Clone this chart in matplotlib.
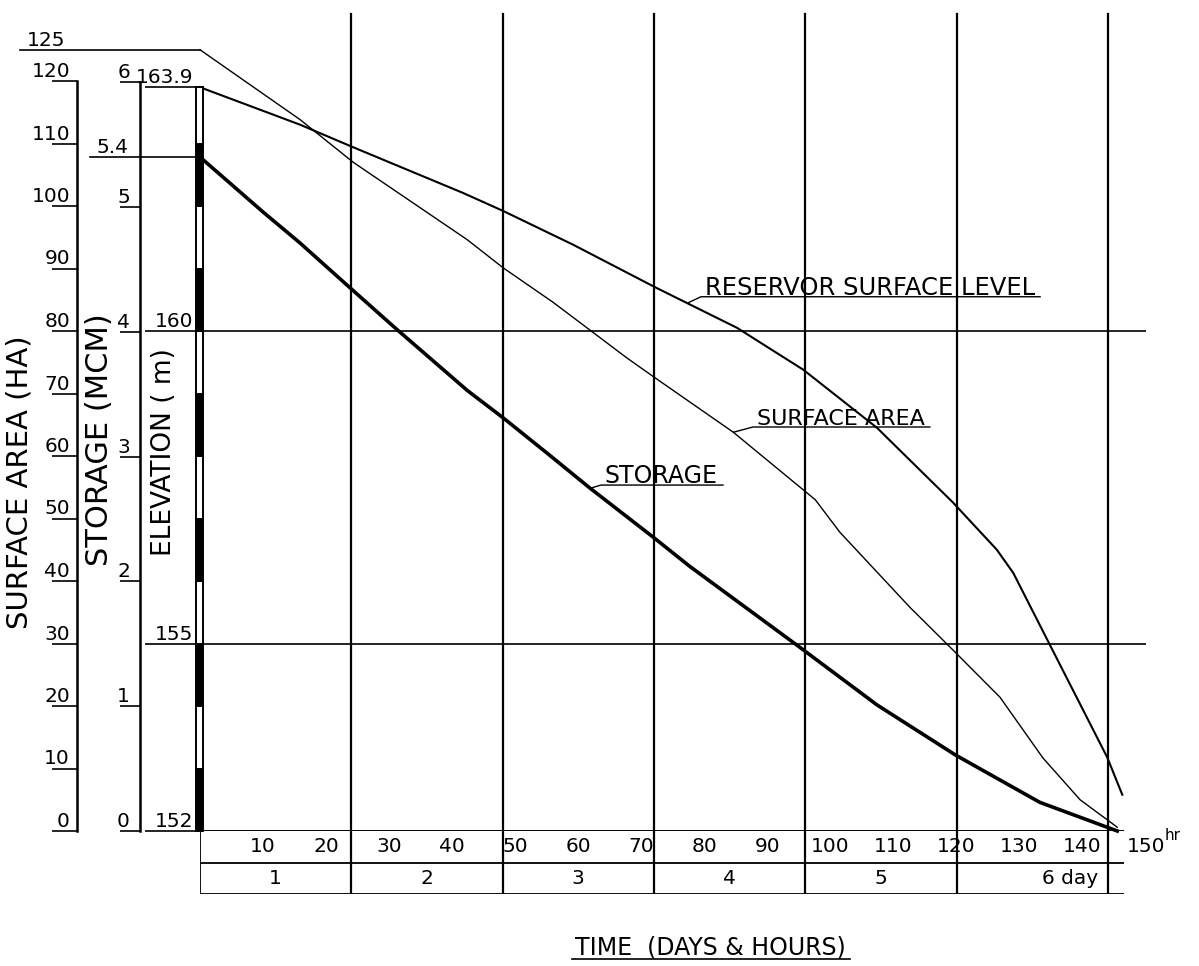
import numpy as np
import matplotlib
matplotlib.use('Agg')
import matplotlib.pyplot as plt
import matplotlib.transforms as mtransforms
from matplotlib.lines import Line2D

plt.rcParams['font.family'] = ['DejaVu Sans']

# ---- valores ----
# nivel de la superficie del embalse (m)
hours_el = [0, 15.9, 24.3, 41.7, 48.1, 59.2, 72.2, 85.2, 95.7, 107.4, 119.4,
            126.4, 129.0, 134.4, 143.9, 146.3]
elev = [163.9, 163.30, 162.94, 162.21, 161.92, 161.38, 160.70, 160.05, 159.38,
        158.45, 157.26, 156.50, 156.13, 155.06, 153.18, 152.58]

# area de la superficie (HA)
hours_sa = [0, 15.9, 24.3, 42.4, 48.1, 56.0, 67.7, 72.2, 84.6, 97.6, 101.5,
            112.6, 119.4, 126.9, 133.7, 139.6, 143.9, 145.5]
area = [125.0, 113.8, 107.0, 94.6, 90.1, 84.6, 75.7, 72.5, 63.8, 53.0, 47.8,
        35.8, 29.0, 21.4, 11.7, 5.0, 1.8, 0.6]

# almacenamiento (MCM)
hours_st = [0, 10.0, 15.9, 24.3, 31.2, 42.4, 48.1, 55.0, 61.8, 72.0, 77.7,
            95.2, 107.4, 119.8, 133.2, 143.9, 145.5]
storage = [5.40, 4.96, 4.71, 4.33, 4.02, 3.53, 3.31, 3.03, 2.75, 2.35, 2.12,
           1.47, 1.01, 0.61, 0.23, 0.03, 0.0]

area_ticks = list(range(0, 121, 10))
storage_ticks = [0, 1, 2, 3, 4, 5, 6]
elev_ticks = [152, 155, 160, 163.9]
elev_ticklabels = ['152', '155', '160', '163.9']
day_lines = [0, 24, 48, 72, 96, 120, 144]
hour_ticks = [10, 20, 30, 40, 50, 60, 70, 80, 90, 100, 110, 120, 130, 140, 150]
day_labels = ['1', '2', '3', '4', '5', '6 day']
day_label_pos = [12, 36, 60, 84, 108, 138]
rod_marks = [152, 153, 154, 155, 156, 157, 158, 159, 160, 161, 162, 163, 163.9]

# ---- figura ----
W, H = 1199, 966
fig = plt.figure(figsize=(W / 100, H / 100), dpi=100)

x0, x1 = 200, 1199      # pixel de t=0 y borde derecho
ybase = 831             # pixel de la linea base (152 m)
px_hr = 151.3 / 24      # pixeles por hora
px_m = 62.5             # pixeles por metro

ax_el = fig.add_axes([x0 / W, (H - ybase) / H, (x1 - x0) / W, ybase / H])
ax_el.set_xlim(0, (x1 - x0) / px_hr)
ax_el.set_ylim(152, 152 + ybase / px_m)
ax_el.patch.set_visible(False)
for s in ax_el.spines.values():
    s.set_visible(False)
ax_el.tick_params(axis='x', bottom=False, labelbottom=False)

ax_sa = ax_el.twinx()
ax_sa.set_ylim(0, ybase / 6.25)
ax_st = ax_el.twinx()
ax_st.set_ylim(0, ybase / 124.8)

def left_scale(ax, xpix, top, ticks, length_px, label_px):
    for k in ('right', 'top', 'bottom'):
        ax.spines[k].set_visible(False)
    sp = ax.spines['left']
    sp.set_visible(True)
    sp.set_position(('axes', (xpix - x0) / (x1 - x0)))
    sp.set_bounds(0, top)
    sp.set_linewidth(1.8)
    ax.yaxis.tick_left()
    ax.set_yticks(ticks)
    L = length_px * 0.72
    ax.tick_params(axis='y', direction='out', length=L, width=1.2,
                   pad=label_px * 0.72 - L, labelsize=14.5)
    for lb in ax.get_yticklabels():
        lb.set_verticalalignment('bottom')

left_scale(ax_sa, 77, 120, area_ticks, 25, 7)
left_scale(ax_st, 140, 6, storage_ticks, 20, 10)

# escala de elevacion: marcas largas con la etiqueta encima
ax_el.set_yticks(elev_ticks)
ax_el.set_yticklabels(elev_ticklabels)
ax_el.tick_params(axis='y', left=True, direction='out', length=55 * 0.72,
                  width=1.2, pad=(7 - 55) * 0.72, labelsize=14.5)
for lb in ax_el.get_yticklabels():
    lb.set_verticalalignment('bottom')

# reticula
top_frac = (ybase - 14) / ybase
for d in day_lines[1:]:
    ax_el.axvline(d, ymin=0, ymax=top_frac, color='k', lw=1.6, zorder=2)
ax_el.hlines([155, 160], 0, 150, color='k', lw=1.2, zorder=2)
ax_el.hlines(152, 0, 146.5, color='k', lw=1.4, zorder=2)

# mira graduada en t=0
seg_h = np.diff(rod_marks)
seg_c = ['k' if i % 2 == 0 else 'w' for i in range(len(seg_h))]
ax_el.bar(0, seg_h, bottom=rod_marks[:-1], width=7 / px_hr, color=seg_c,
          edgecolor='k', lw=1.4, clip_on=False, zorder=6)

# curvas
ax_el.plot(hours_el, elev, color='k', lw=1.5, zorder=4, clip_on=False)
ax_sa.plot(hours_sa, area, color='k', lw=1.0, zorder=4, clip_on=False)
ax_st.plot(hours_st, storage, color='k', lw=2.6, zorder=4, clip_on=False)

# valores iniciales con linea de referencia
tr_sa = mtransforms.blended_transform_factory(ax_sa.transAxes, ax_sa.transData)
ax_sa.plot([(20 - x0) / (x1 - x0), 0], [area[0], area[0]], transform=tr_sa,
           color='k', lw=1.2, clip_on=False)
ax_sa.text((27 - x0) / (x1 - x0), area[0], '%d' % area[0], transform=tr_sa,
           fontsize=14.5, ha='left', va='bottom')
tr_st = mtransforms.blended_transform_factory(ax_st.transAxes, ax_st.transData)
ax_st.plot([(90 - x0) / (x1 - x0), 0], [storage[0], storage[0]], transform=tr_st,
           color='k', lw=1.2, clip_on=False)
ax_st.text((97 - x0) / (x1 - x0), storage[0], '%.1f' % storage[0], transform=tr_st,
           fontsize=14.5, ha='left', va='bottom')

# tabla de horas y dias
ytab = 894
ax_tb = fig.add_axes([x0 / W, (H - ytab) / H, (x1 - x0) / W, (ytab - ybase) / H])
ax_tb.set_xlim(ax_el.get_xlim())
ax_tb.set_ylim(0, 2)
ax_tb.axis('off')
ax_tb.hlines([0, 1], 0, 146.5, color='k', lw=1.3)
for d in day_lines:
    ax_tb.axvline(d, color='k', lw=1.6 if d else 1.3)
for h in hour_ticks:
    ax_tb.text(h, 1.5, str(h), ha='center', va='center', fontsize=14.5)
ax_tb.annotate('hr', xy=(150, 1.5), xytext=(14, 3), textcoords='offset points',
               fontsize=11, ha='left', va='bottom')
for p, s in zip(day_label_pos, day_labels):
    ax_tb.text(p, 0.5, s, ha='center', va='center', fontsize=14.5)

# titulos de ejes
fig.text(20 / W, 1 - 482 / H, 'SURFACE AREA (HA)', rotation=90, ha='center',
         va='center', fontsize=21)
fig.text(100 / W, 1 - 440 / H, 'STORAGE (MCM)', rotation=90, ha='center',
         va='center', fontsize=22)
fig.text(164 / W, 1 - 452 / H, 'ELEVATION ( m)', rotation=90, ha='center',
         va='center', fontsize=19)

# rotulos de las curvas con subrayado y linea guia
rotulos = [
    (ax_el, 'RESERVOR SURFACE LEVEL', (80.1, 160.58), 77.3, hours_el, elev, 17.5),
    (ax_sa, 'SURFACE AREA', (88.35, 64.96), 84.6, hours_sa, area, 16),
    (ax_st, 'STORAGE', (64.24, 2.788), 61.9, hours_st, storage, 17),
]
hechos = []
for ax, s, pos, ta, hx, hy, fs in rotulos:
    t = ax.text(pos[0], pos[1], s, fontsize=fs, ha='left', va='baseline')
    hechos.append((t, ax, (ta, np.interp(ta, hx, hy))))
tt = fig.text(710 / W, 1 - 955 / H, 'TIME  (DAYS & HOURS)', ha='center',
              va='baseline', fontsize=17)

fig.canvas.draw()
r = fig.canvas.get_renderer()
inv = fig.transFigure.inverted()
for t, ax, anc in hechos:
    bb = t.get_window_extent(r)
    by = ax.transData.transform(t.get_position())[1]
    a = ax.transData.transform(anc)
    pts = inv.transform([a, (bb.x0 - 4, by - 2), (bb.x1 + 5, by - 2)])
    fig.add_artist(Line2D(pts[:, 0], pts[:, 1], transform=fig.transFigure,
                          color='k', lw=1.0))
bb = tt.get_window_extent(r)
by = tt.get_transform().transform(tt.get_position())[1]
pts = inv.transform([(bb.x0 - 3, by - 4), (bb.x1 + 5, by - 4)])
fig.add_artist(Line2D(pts[:, 0], pts[:, 1], transform=fig.transFigure,
                      color='k', lw=1.2))

fig.savefig('out.png', dpi=100)
